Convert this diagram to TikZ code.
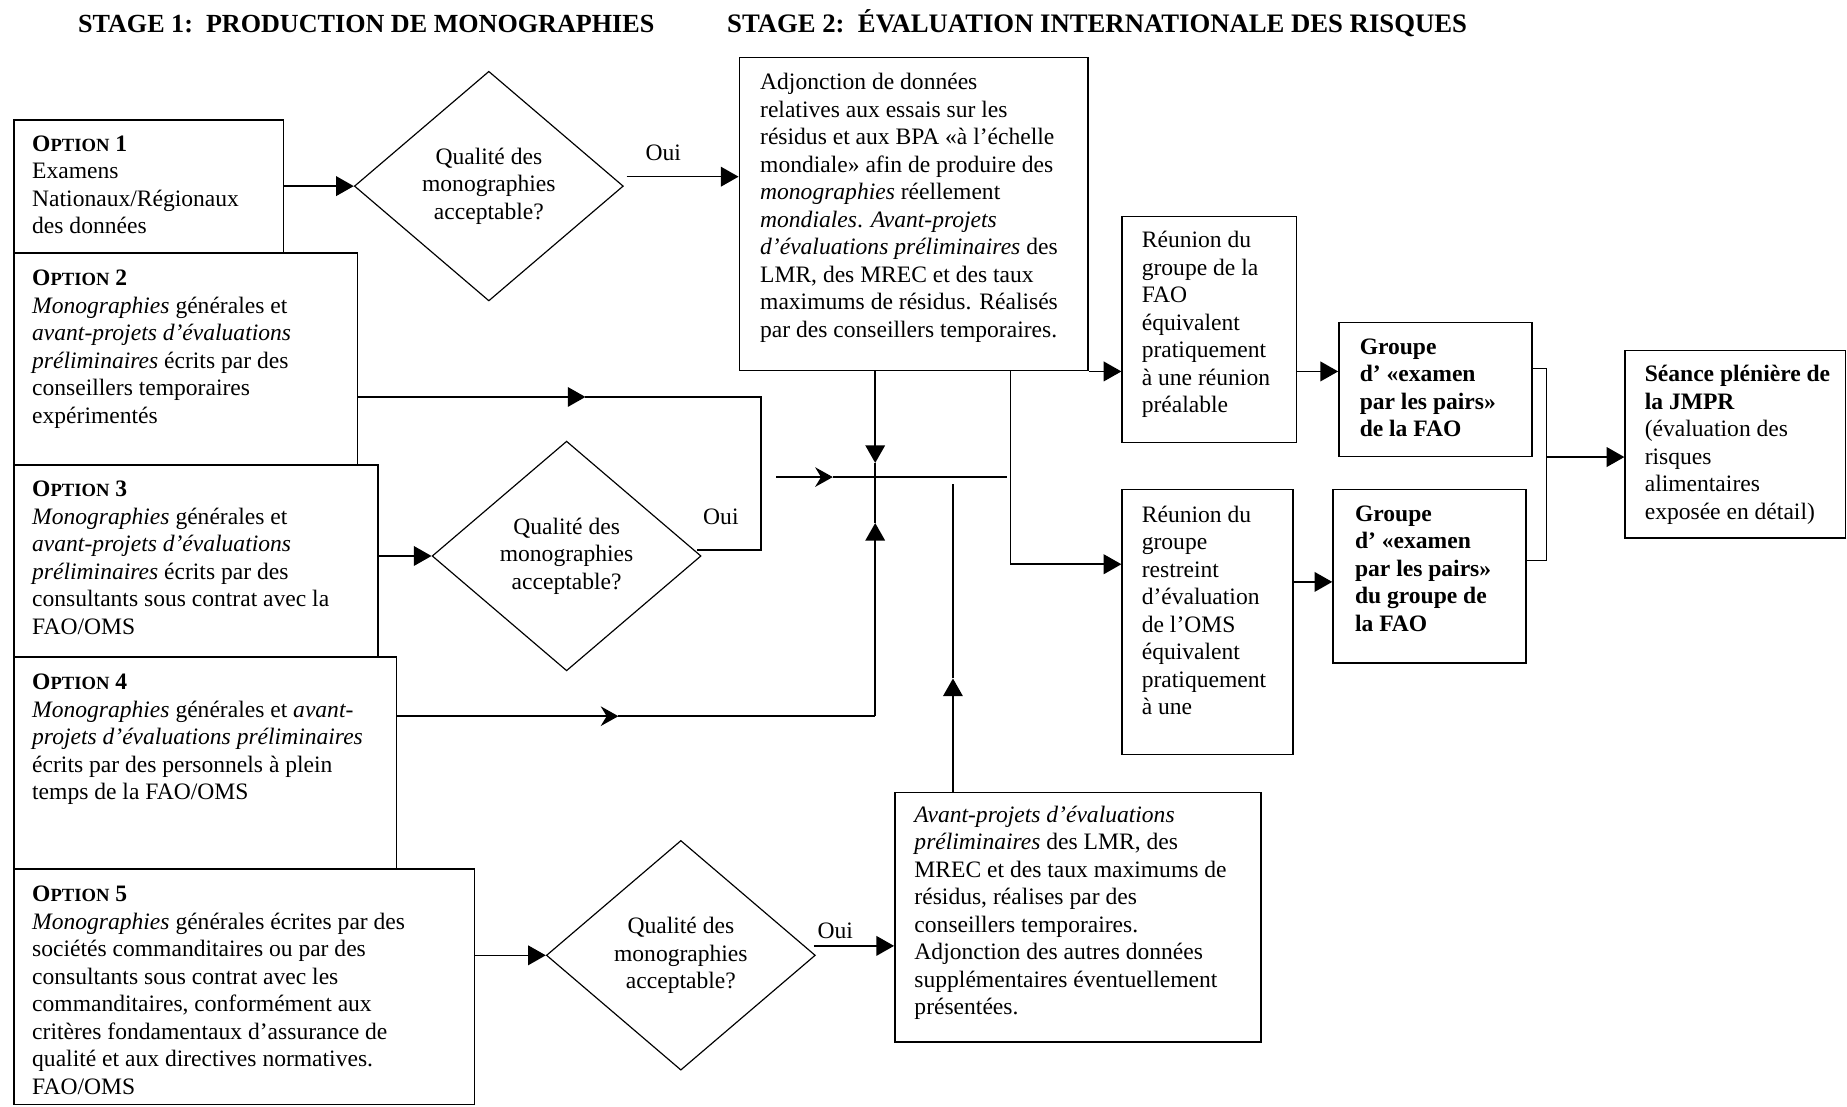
\documentclass[tikz,border=0pt]{standalone}
\usepackage{fontspec}
\setmainfont{Liberation Serif}
\usetikzlibrary{arrows.meta, shapes.geometric}

\newcommand{\optname}[1]{{\bfseries O{\fontsize{9.5}{14}\selectfont PTION} #1}}

\begin{document}
\begin{tikzpicture}[x=0.6pt, y=-0.6pt,
  font=\fontsize{12}{14}\selectfont,
  box/.style={draw, line width=0.8pt, anchor=north west, inner sep=0pt},
  txt/.style={anchor=north west, align=left, inner sep=0pt},
  decision/.style={draw, diamond, line width=0.6pt, inner sep=0pt, align=center,
    minimum width=137pt, minimum height=117pt},
  wire/.style={line width=0.8pt},
  arr/.style={wire, -{Triangle[length=9pt,width=10pt]}},
  sarr/.style={wire, -{Stealth[length=9pt,width=10pt,inset=3pt]}}]
\useasboundingbox (0,0) rectangle (1568,939);

\node[anchor=west, inner sep=0pt, font=\bfseries\fontsize{13.3}{16}\selectfont] (stage1) at (66,20) {STAGE 1:\ \ PRODUCTION DE MONOGRAPHIES};
\node[anchor=west, inner sep=0pt, font=\bfseries\fontsize{13.6}{16}\selectfont] (stage2) at (617,20) {STAGE 2:\ \ ÉVALUATION INTERNATIONALE DES RISQUES};

% stage 1 boxes
\node[box, minimum width=137.4pt, minimum height=67.8pt] (opt1) at (11,101) {};
\node[txt] (opt1t) at (27,115) {\optname{1}\\Examens\\Nationaux/Régionaux\\des données};
\node[box, minimum width=175.2pt, minimum height=108pt] (opt2) at (11,214) {};
\node[txt] (opt2t) at (27,229) {\optname{2}\\\textit{Monographies} générales et\\\textit{avant-projets d’évaluations}\\\textit{préliminaires} écrits par des\\conseillers temporaires\\expérimentés};
\node[box, minimum width=185.4pt, minimum height=97.8pt] (opt3) at (11,394) {};
\node[txt] (opt3t) at (27,408) {\optname{3}\\\textit{Monographies} générales et\\\textit{avant-projets d’évaluations}\\\textit{préliminaires} écrits par des\\consultants sous contrat avec la\\FAO/OMS};
\node[box, minimum width=195pt, minimum height=108pt] (opt4) at (11,557) {};
\node[txt] (opt4t) at (27,572) {\optname{4}\\\textit{Monographies} générales et \textit{avant-}\\\textit{projets d’évaluations préliminaires}\\écrits par des personnels à plein\\temps de la FAO/OMS};
\node[box, minimum width=234.6pt, minimum height=120pt] (opt5) at (11,737) {};
\node[txt] (opt5t) at (27,752) {\optname{5}\\\textit{Monographies} générales écrites par des\\sociétés commanditaires ou par des\\consultants sous contrat avec les\\commanditaires, conformément aux\\critères fondamentaux d’assurance de\\qualité et aux directives normatives.\\FAO/OMS};

\node[decision] (q1) at (415,158) {Qualité des\\monographies\\acceptable?};
\node[decision] (q2) at (481,472) {Qualité des\\monographies\\acceptable?};
\node[decision] (q3) at (578,811) {Qualité des\\monographies\\acceptable?};
\node (oui1) at (563,130) {Oui};
\node (oui2) at (612,439) {Oui};
\node (oui3) at (709,790) {Oui};

% stage 2 boxes
\node[box, minimum width=177.6pt, minimum height=159.6pt] (big) at (627,48) {};
\node[txt] (bigt) at (645,62) {Adjonction de données\\relatives aux essais sur les\\résidus et aux BPA «à l’échelle\\mondiale» afin de produire des\\\textit{monographies} réellement\\\textit{mondiales}. \textit{Avant-projets}\\\textit{d’évaluations préliminaires} des\\LMR, des MREC et des taux\\maximums de résidus. Réalisés\\par des conseillers temporaires.};
\node[box, minimum width=186.6pt, minimum height=127.2pt] (avant) at (759,672) {};
\node[txt] (avantt) at (776,684) {\textit{Avant-projets d’évaluations}\\\textit{préliminaires} des LMR, des\\MREC et des taux maximums de\\résidus, réalises par des\\conseillers temporaires.\\Adjonction des autres données\\supplémentaires éventuellement\\présentées.};
\node[box, minimum width=88.8pt, minimum height=115.2pt] (faomeet) at (952,183) {};
\node[txt] (faomeett) at (969,196) {Réunion du\\groupe de la\\FAO\\équivalent\\pratiquement\\à une réunion\\préalable};
\node[box, minimum width=87pt, minimum height=135pt] (omsmeet) at (952,415) {};
\node[txt] (omsmeett) at (969,429) {Réunion du\\groupe\\restreint\\d’évaluation\\de l’OMS\\équivalent\\pratiquement\\à une};
\node[box, minimum width=98.4pt, minimum height=68.4pt] (grpfao) at (1136,273) {};
\node[txt, font=\bfseries\fontsize{12}{14}\selectfont] (grpfaot) at (1154,287) {Groupe\\d’ «examen\\par les pairs»\\de la FAO};
\node[box, minimum width=98.4pt, minimum height=88.2pt] (grpoms) at (1131,415) {};
\node[txt, font=\bfseries\fontsize{12}{14}\selectfont] (grpomst) at (1150,429) {Groupe\\d’ «examen\\par les pairs»\\du groupe de\\la FAO};
\node[box, minimum width=112.2pt, minimum height=95.4pt] (seance) at (1379,297) {};
\node[txt] (seancet) at (1396,310) {\textbf{Séance plénière de}\\\textbf{la JMPR}\\(évaluation des\\risques\\alimentaires\\exposée en détail)};

% connectors
\draw[arr] (opt1.east |- q1.west) -- (q1.west);
\coordinate (y1) at (532,150);
\draw[arr] (y1) -- (y1 -| big.west);

\coordinate (o2) at (opt2.east |- 0,337);
\coordinate (o2m) at (497,337);
\coordinate (o2c) at (646,337);
\coordinate (y2) at (592,467);
\draw[arr] (o2) -- (o2m);
\draw[wire] (o2m) -- (o2c) |- (y2);
\draw[arr] (opt3.east |- q2.west) -- (q2.west);

\coordinate (hub) at (743,405);
\coordinate (hubin) at (659,405);
\coordinate (hubmid) at (707,405);
\coordinate (hubout) at (855,405);
\coordinate (hubN) at (743,393);
\coordinate (hubS) at (743,444);
\draw[sarr] (hubin) -- (hubmid);
\draw[wire] (hubmid) -- (hubout);
\draw[arr] (big.south -| hub) -- (hubN);
\draw[wire] (hubN) -- (hubS);

\coordinate (o4) at (opt4.east |- 0,608);
\coordinate (o4m) at (525,608);
\coordinate (o4c) at (743,608);
\draw[sarr] (o4) -- (o4m);
\draw[wire] (o4m) -- (o4c);
\draw[arr] (o4c) -- (hubS);

\coordinate (up) at (809,576);
\coordinate (uptop) at (809,411);
\draw[arr] (avant.north -| up) -- (up);
\draw[wire] (up) -- (uptop);

\coordinate (br) at (858,479);
\draw[arr] (big.south -| br) |- (omsmeet.west |- br);
\draw[arr] (big.south east) -- (big.south east -| faomeet.west);
\draw[arr] (faomeet.east |- big.south) -- (grpfao.west |- big.south);
\draw[arr] (omsmeet.east |- 0,494) -- (grpoms.west |- 0,494);

\coordinate (mg) at (1313,388);
\draw[wire] (grpfao.east |- 0,313) -| (mg) |- (grpoms.east |- 0,476);
\draw[arr] (mg) -- (mg -| seance.west);

\draw[arr] (opt5.east |- q3.west) -- (q3.west);
\coordinate (y3) at (691,803);
\draw[arr] (y3) -- (y3 -| avant.west);

\end{tikzpicture}
\end{document}
